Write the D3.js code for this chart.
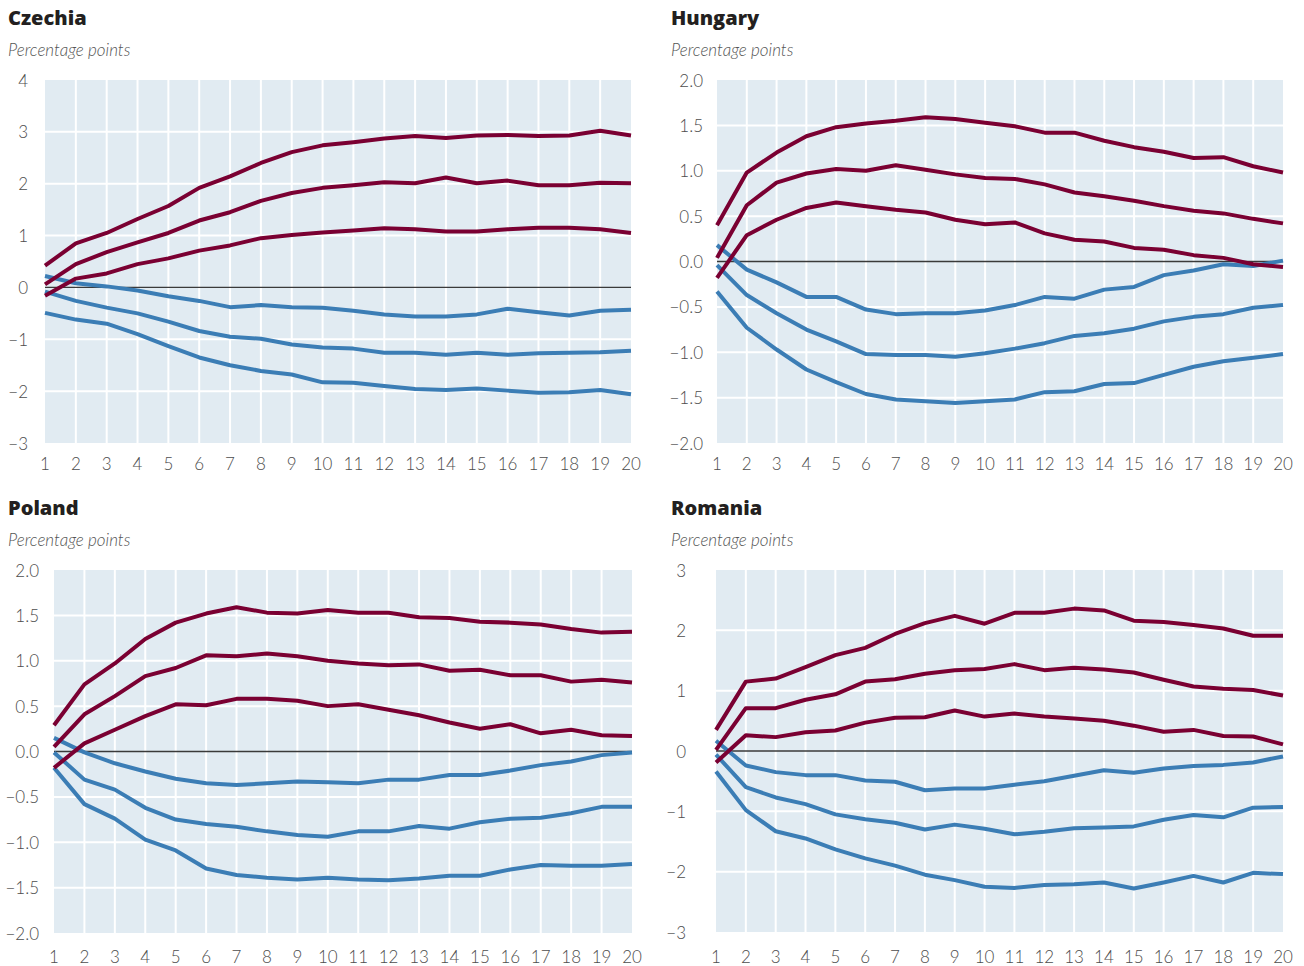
<!DOCTYPE html>
<html>
<head>
<meta charset="utf-8">
<script src="https://cdn.jsdelivr.net/npm/d3@7"></script>
<style>
  html, body { margin: 0; padding: 0; background: #ffffff; }
  svg { display: block; }
  .title { font-family: "Open Sans", Lato, sans-serif; font-weight: 800; font-size: 20px; fill: #231f20; }
  .subtitle { font-family: Lato, "Open Sans", sans-serif; font-style: italic; font-weight: 300; font-size: 17px; fill: #555555; }
  .tick-label { font-family: Lato, "Open Sans", sans-serif; font-weight: 300; font-size: 17px; fill: #4d4d4d; }
</style>
</head>
<body>
<svg id="chart" width="1304" height="966"></svg>
<script>
// Horizons (quarters after the shock)
const horizons = d3.range(1, 21);

// Czechia: three upper (maroon) and three lower (blue) response paths
const czRed1 = [0.42, 0.85, 1.05, 1.32, 1.57, 1.92, 2.14, 2.40, 2.61, 2.74, 2.80, 2.87, 2.92, 2.88, 2.93, 2.94, 2.92, 2.93, 3.02, 2.93];
const czRed2 = [0.06, 0.45, 0.68, 0.87, 1.05, 1.29, 1.45, 1.67, 1.82, 1.92, 1.97, 2.03, 2.01, 2.12, 2.01, 2.06, 1.97, 1.97, 2.02, 2.01];
const czRed3 = [-0.16, 0.17, 0.27, 0.45, 0.56, 0.71, 0.81, 0.95, 1.01, 1.06, 1.10, 1.14, 1.12, 1.08, 1.08, 1.12, 1.15, 1.15, 1.12, 1.05];
const czBlue1 = [0.22, 0.08, 0.02, -0.06, -0.17, -0.26, -0.38, -0.34, -0.38, -0.39, -0.45, -0.52, -0.56, -0.56, -0.52, -0.41, -0.48, -0.54, -0.45, -0.43];
const czBlue2 = [-0.08, -0.26, -0.39, -0.50, -0.66, -0.84, -0.95, -0.99, -1.10, -1.16, -1.18, -1.26, -1.26, -1.30, -1.26, -1.30, -1.27, -1.26, -1.25, -1.22];
const czBlue3 = [-0.49, -0.62, -0.70, -0.90, -1.13, -1.35, -1.50, -1.61, -1.68, -1.83, -1.84, -1.90, -1.96, -1.98, -1.95, -1.99, -2.03, -2.02, -1.98, -2.06];

// Hungary
const huRed1 = [0.40, 0.98, 1.20, 1.38, 1.48, 1.52, 1.55, 1.59, 1.57, 1.53, 1.49, 1.42, 1.42, 1.33, 1.26, 1.21, 1.14, 1.15, 1.05, 0.98];
const huRed2 = [0.04, 0.62, 0.87, 0.97, 1.02, 1.00, 1.06, 1.01, 0.96, 0.92, 0.91, 0.85, 0.76, 0.72, 0.67, 0.61, 0.56, 0.53, 0.47, 0.42];
const huRed3 = [-0.18, 0.29, 0.46, 0.59, 0.65, 0.61, 0.57, 0.54, 0.46, 0.41, 0.43, 0.31, 0.24, 0.22, 0.15, 0.13, 0.07, 0.04, -0.03, -0.06];
const huBlue1 = [0.18, -0.09, -0.23, -0.39, -0.39, -0.53, -0.58, -0.57, -0.57, -0.54, -0.48, -0.39, -0.41, -0.31, -0.28, -0.15, -0.10, -0.03, -0.05, 0.01];
const huBlue2 = [-0.04, -0.37, -0.57, -0.75, -0.88, -1.02, -1.03, -1.03, -1.05, -1.01, -0.96, -0.90, -0.82, -0.79, -0.74, -0.66, -0.61, -0.58, -0.51, -0.48];
const huBlue3 = [-0.33, -0.73, -0.97, -1.19, -1.33, -1.46, -1.52, -1.54, -1.56, -1.54, -1.52, -1.44, -1.43, -1.35, -1.34, -1.25, -1.16, -1.10, -1.06, -1.02];

// Poland
const plRed1 = [0.29, 0.74, 0.97, 1.24, 1.42, 1.52, 1.59, 1.53, 1.52, 1.56, 1.53, 1.53, 1.48, 1.47, 1.43, 1.42, 1.40, 1.35, 1.31, 1.32];
const plRed2 = [0.05, 0.41, 0.61, 0.83, 0.92, 1.06, 1.05, 1.08, 1.05, 1.00, 0.97, 0.95, 0.96, 0.89, 0.90, 0.84, 0.84, 0.77, 0.79, 0.76];
const plRed3 = [-0.18, 0.09, 0.24, 0.39, 0.52, 0.51, 0.58, 0.58, 0.56, 0.50, 0.52, 0.46, 0.40, 0.32, 0.25, 0.30, 0.20, 0.24, 0.18, 0.17];
const plBlue1 = [0.15, -0.01, -0.13, -0.22, -0.30, -0.35, -0.37, -0.35, -0.33, -0.34, -0.35, -0.31, -0.31, -0.26, -0.26, -0.21, -0.15, -0.11, -0.04, -0.01];
const plBlue2 = [-0.01, -0.31, -0.42, -0.62, -0.75, -0.80, -0.83, -0.88, -0.92, -0.94, -0.88, -0.88, -0.82, -0.85, -0.78, -0.74, -0.73, -0.68, -0.61, -0.61];
const plBlue3 = [-0.18, -0.58, -0.74, -0.97, -1.09, -1.29, -1.36, -1.39, -1.41, -1.39, -1.41, -1.42, -1.40, -1.37, -1.37, -1.30, -1.25, -1.26, -1.26, -1.24];

// Romania
const roRed1 = [0.35, 1.15, 1.20, 1.39, 1.59, 1.71, 1.94, 2.12, 2.24, 2.11, 2.29, 2.29, 2.36, 2.33, 2.16, 2.14, 2.09, 2.03, 1.91, 1.91];
const roRed2 = [0.02, 0.71, 0.71, 0.85, 0.94, 1.15, 1.19, 1.28, 1.34, 1.36, 1.44, 1.34, 1.38, 1.35, 1.30, 1.18, 1.07, 1.03, 1.01, 0.92];
const roRed3 = [-0.19, 0.26, 0.23, 0.31, 0.34, 0.47, 0.55, 0.56, 0.67, 0.57, 0.62, 0.57, 0.54, 0.50, 0.42, 0.32, 0.35, 0.25, 0.24, 0.11];
const roBlue1 = [0.17, -0.24, -0.35, -0.40, -0.40, -0.49, -0.51, -0.65, -0.62, -0.62, -0.56, -0.50, -0.41, -0.32, -0.36, -0.29, -0.25, -0.23, -0.19, -0.09];
const roBlue2 = [-0.06, -0.60, -0.77, -0.88, -1.05, -1.13, -1.19, -1.30, -1.22, -1.29, -1.38, -1.34, -1.28, -1.27, -1.25, -1.14, -1.06, -1.10, -0.94, -0.93];
const roBlue3 = [-0.34, -0.98, -1.33, -1.45, -1.63, -1.78, -1.90, -2.05, -2.14, -2.25, -2.27, -2.22, -2.21, -2.18, -2.28, -2.18, -2.07, -2.18, -2.02, -2.04];

// Titles and y-axis ticks per panel
const titles = ["Czechia", "Hungary", "Poland", "Romania"];
const unitLabel = "Percentage points";
const czTicks = [-3, -2, -1, 0, 1, 2, 3, 4];
const halfTicks = [-2, -1.5, -1, -0.5, 0, 0.5, 1, 1.5, 2];
const roTicks = [-3, -2, -1, 0, 1, 2, 3];

const panels = [
  { title: titles[0], red: [czRed1, czRed2, czRed3], blue: [czBlue1, czBlue2, czBlue3],
    domain: [-3, 4], ticks: czTicks, fmt: d3.format("d"),
    x0: 8, ty: 25, left: 45, right: 631, top: 80, bottom: 443, labelRight: 28, xLabelY: 470 },
  { title: titles[1], red: [huRed1, huRed2, huRed3], blue: [huBlue1, huBlue2, huBlue3],
    domain: [-2, 2], ticks: halfTicks, fmt: d3.format(".1f"),
    x0: 671, ty: 25, left: 717, right: 1283, top: 80, bottom: 443, labelRight: 703, xLabelY: 470 },
  { title: titles[2], red: [plRed1, plRed2, plRed3], blue: [plBlue1, plBlue2, plBlue3],
    domain: [-2, 2], ticks: halfTicks, fmt: d3.format(".1f"),
    x0: 8, ty: 515, left: 54, right: 632, top: 570, bottom: 933, labelRight: 39, xLabelY: 963 },
  { title: titles[3], red: [roRed1, roRed2, roRed3], blue: [roBlue1, roBlue2, roBlue3],
    domain: [-3, 3], ticks: roTicks, fmt: d3.format("d"),
    x0: 671, ty: 515, left: 716, right: 1283, top: 570, bottom: 932, labelRight: 686, xLabelY: 963 }
];

const colors = { red: "#7a0032", blue: "#3b7db5", bg: "#e1ebf2", grid: "#ffffff", zero: "#3a3a3a" };
const minus = s => s.replace(/-/g, "\u2212");

const svg = d3.select("#chart");

panels.forEach(p => {
  const g = svg.append("g");

  const x = d3.scaleLinear().domain([1, 20]).range([p.left, p.right]);
  const y = d3.scaleLinear().domain(p.domain).range([p.bottom, p.top]);

  g.append("text").attr("class", "title").attr("x", p.x0).attr("y", p.ty).text(p.title);
  g.append("text").attr("class", "subtitle").attr("x", p.x0).attr("y", p.ty + 31).text(unitLabel);

  // plot background
  g.append("rect")
    .attr("x", p.left).attr("y", p.top)
    .attr("width", p.right - p.left).attr("height", p.bottom - p.top)
    .attr("fill", colors.bg);

  // vertical grid
  g.append("g").selectAll("line").data(horizons.slice(1, -1)).join("line")
    .attr("x1", d => x(d)).attr("x2", d => x(d))
    .attr("y1", p.top).attr("y2", p.bottom)
    .attr("stroke", colors.grid).attr("stroke-width", 2);

  // horizontal grid
  g.append("g").selectAll("line").data(p.ticks.filter(t => t !== 0 && t > p.domain[0] && t < p.domain[1])).join("line")
    .attr("x1", p.left).attr("x2", p.right)
    .attr("y1", d => y(d)).attr("y2", d => y(d))
    .attr("stroke", colors.grid).attr("stroke-width", 2);

  // zero line
  g.append("line")
    .attr("x1", p.left).attr("x2", p.right)
    .attr("y1", y(0)).attr("y2", y(0))
    .attr("stroke", colors.zero).attr("stroke-width", 1.3);

  // y tick labels
  g.append("g").selectAll("text").data(p.ticks).join("text")
    .attr("class", "tick-label")
    .attr("x", p.labelRight).attr("y", d => y(d))
    .attr("text-anchor", "end").attr("dominant-baseline", "central")
    .text(d => minus(p.fmt(d)));

  // x tick labels
  g.append("g").selectAll("text").data(horizons).join("text")
    .attr("class", "tick-label")
    .attr("x", d => x(d)).attr("y", p.xLabelY)
    .attr("text-anchor", "middle")
    .text(d => d);

  const line = d3.line().x((d, i) => x(horizons[i])).y(d => y(d));

  g.append("g").selectAll("path").data(p.blue).join("path")
    .attr("d", line).attr("fill", "none")
    .attr("stroke", colors.blue).attr("stroke-width", 4)
    .attr("stroke-linejoin", "round");

  g.append("g").selectAll("path").data(p.red).join("path")
    .attr("d", line).attr("fill", "none")
    .attr("stroke", colors.red).attr("stroke-width", 4)
    .attr("stroke-linejoin", "round");
});
</script>
</body>
</html>
